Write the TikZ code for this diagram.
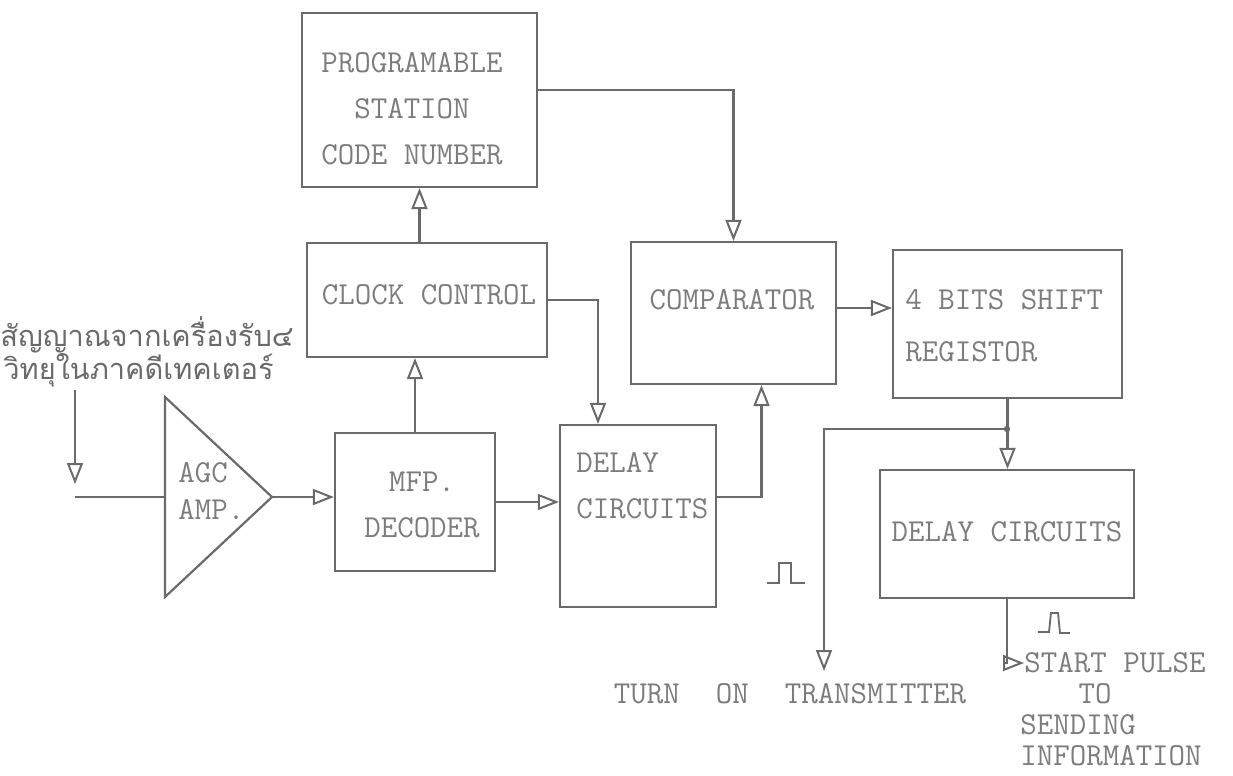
\documentclass[tikz,border=0pt]{standalone}
\usepackage{fontspec}
\newfontfamily\thaifont[Script=Thai]{Loma}
\usetikzlibrary{arrows.meta}
\definecolor{ink}{HTML}{6A6A6A}
\definecolor{typeink}{HTML}{7C7C7C}

\begin{document}
\begin{tikzpicture}[
        x=0.5pt,
        y=-0.5pt,
        every node/.style={font=\ttfamily\fontsize{16}{23}\selectfont, text=typeink},
        block/.style={
            draw=ink,
            line width=1.1pt,
            inner sep=0pt
        },
        lbl/.style={inner sep=0pt, align=center},
        thai/.style={inner sep=0pt, font=\thaifont\fontsize{14.5}{18}\selectfont, text=ink},
        wire/.style={draw=ink, line width=1.1pt},
        arr/.style={wire, -{Triangle[open, length=10.5pt, width=8pt, line width=1pt]}},
        pulse/.style={draw=ink, line width=0.9pt}
    ]
    \useasboundingbox (0,0) rectangle (1233,776);

    % Blocks
    \node[block, minimum width=117.5pt, minimum height=87pt] (prog) at (419.5,100) {};
    \node[block, minimum width=120pt, minimum height=57pt] (clock) at (427,300) {};
    \node[block, minimum width=102.5pt, minimum height=71pt] (comp) at (733.5,313) {};
    \node[block, minimum width=114.5pt, minimum height=74pt] (shift) at (1007.5,324) {};
    \node[block, minimum width=80pt, minimum height=69pt] (mfp) at (415,502) {};
    \node[block, minimum width=78pt, minimum height=91pt] (delayA) at (638,516) {};
    \node[block, minimum width=127pt, minimum height=64pt] (delayB) at (1007,534) {};

    % AGC amplifier
    \coordinate (amp-top) at (165,397);
    \coordinate (amp-bot) at (165,597);
    \coordinate (amp-in) at (165,497);
    \coordinate (amp-out) at (272,497);
    \draw[wire, line join=miter] (amp-top) -- (amp-out) -- (amp-bot) -- cycle;

    % Labels
    \node[lbl] (prog-txt) at (412,109) {PROGRAMABLE\\STATION\\CODE NUMBER};
    \node[lbl] (clock-txt) at (429,295) {CLOCK CONTROL};
    \node[lbl] (comp-txt) at (732,300) {COMPARATOR};
    \node[lbl, anchor=west, align=left] (shift-txt) at (905,326) {4 BITS SHIFT\\[3pt]REGISTOR};
    \node[lbl] (mfp-txt) at (422,505) {MFP.\\DECODER};
    \node[lbl, anchor=west, align=left] (delayA-txt) at (576,486) {DELAY\\CIRCUITS};
    \node[lbl] (delayB-txt) at (1007,532) {DELAY CIRCUITS};
    \node[lbl, anchor=west, align=left] (amp-txt) at (178,491) {AGC\\[-4.5pt]AMP.};
    \node[thai, anchor=west] (sig1) at (0,335) {สัญญาณจากเครื่องรับ๔};
    \node[thai, anchor=west] (sig2) at (3,370) {วิทยุในภาคดีเทคเตอร์};
    \node[lbl] (turnon) at (790,694) {TURN\hspace{18pt}ON\hspace{18pt}TRANSMITTER};
    \node[lbl, anchor=west] (start) at (1024,663) {START PULSE};
    \node[lbl] (to) at (1095,694) {TO};
    \node[lbl, anchor=west] (sending) at (1020,725) {SENDING};
    \node[lbl, anchor=west] (info) at (1020,756) {INFORMATION};

    % Input
    \coordinate (rx-top) at (75,390);
    \coordinate (rx-tip) at (75,484);
    \coordinate (rx-in) at (75,497);
    \draw[arr] (rx-top) -- (rx-tip);
    \draw[wire] (rx-in) -- (amp-in);

    % Signal path
    \draw[arr] (amp-out) -- (amp-out -| mfp.west);
    \draw[arr] (mfp.east) -- (mfp.east -| delayA.west);
    \draw[arr] (mfp.north) -- (mfp.north |- clock.south);
    \draw[arr] (clock.north -| prog.south) -- (prog.south);
    \draw[arr] ([yshift=5pt]prog.east) -| (comp.north);
    \draw[arr] (clock.east) -| ([xshift=-20pt]delayA.north);
    \draw[arr] ([yshift=9.5pt]delayA.east) -| ([xshift=14pt]comp.south);
    \draw[arr] ([yshift=2.5pt]comp.east) -- ([yshift=2.5pt]comp.east -| shift.west);
    \draw[arr] (shift.south) -- (shift.south |- delayB.north);

    % Outputs
    \coordinate (tap) at (1007,429);
    \coordinate (tx-tip) at (824,671);
    \fill[ink] (tap) circle (1.6pt);
    \draw[arr] (tap) -| (tx-tip);
    \draw[arr] (delayB.south) |- (start.west);

    % Pulses
    \draw[pulse] (767,583) -- (779,583) -- (779,563) -- (791,563) -- (791,583) -- (805,583);
    \draw[pulse] (1038,632) -- (1049,632) -- (1051,613) -- (1058,613) -- (1060,633) -- (1070,633);

\end{tikzpicture}
\end{document}
